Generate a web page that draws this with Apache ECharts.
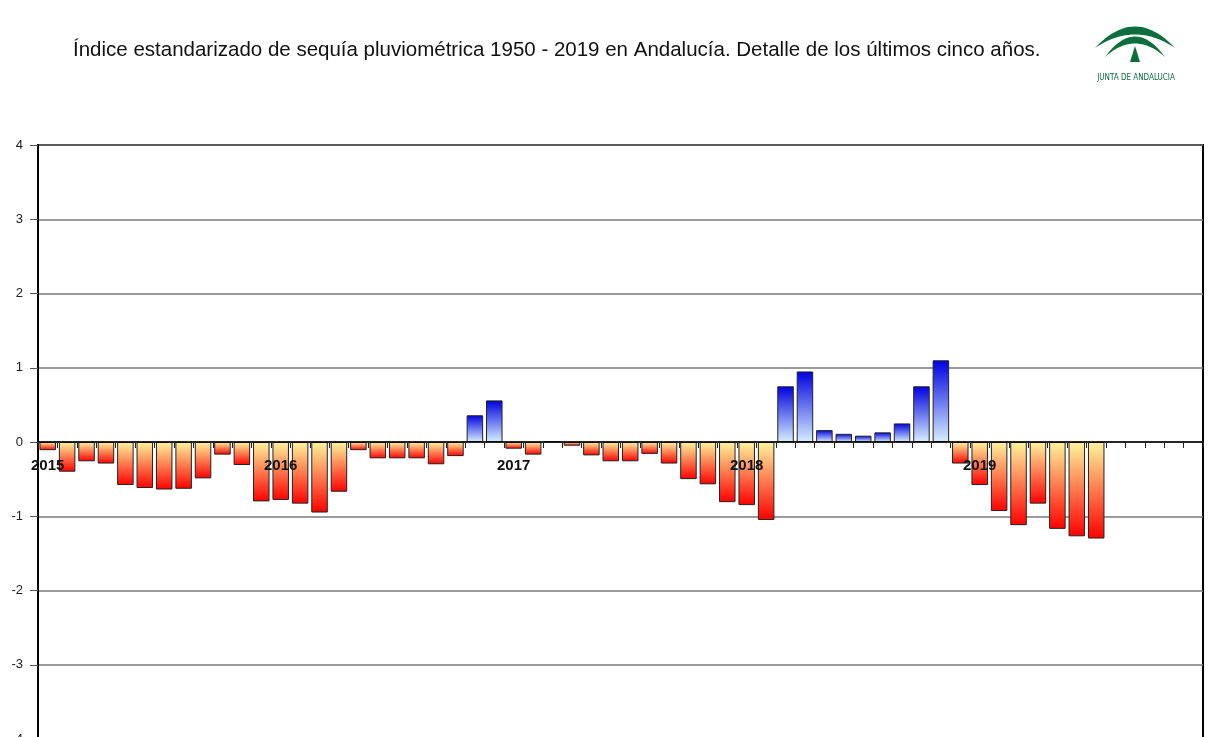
<!DOCTYPE html>
<html>
<head>
<meta charset="utf-8">
<script src="https://cdn.jsdelivr.net/npm/echarts@6/dist/echarts.min.js"></script>
<style>
  html, body { margin: 0; padding: 0; background: #fff; overflow: hidden; }
</style>
</head>
<body>
<div id="chart" style="width:1208px;height:800px;"></div>
<script>
// years shown on the axis, one category per month
var years = ['2015', '2016', '2017', '2018', '2019'];
var months = ['01', '02', '03', '04', '05', '06', '07', '08', '09', '10', '11', '12'];
var categories = [];
years.forEach(function (y) {
  months.forEach(function (m) { categories.push(y + '-' + m); });
});

// standardized precipitation drought index, monthly (2015-01 .. 2019-07)
var spi2015 = [-0.11, -0.40, -0.26, -0.29, -0.58, -0.62, -0.64, -0.63, -0.49, -0.17, -0.31, -0.80];
var spi2016 = [-0.78, -0.83, -0.95, -0.67, -0.11, -0.22, -0.22, -0.22, -0.30, -0.19, 0.36, 0.56];
var spi2017 = [-0.09, -0.17, 0.01, -0.05, -0.18, -0.26, -0.26, -0.16, -0.29, -0.50, -0.57, -0.81];
var spi2018 = [-0.85, -1.05, 0.75, 0.95, 0.16, 0.11, 0.085, 0.13, 0.25, 0.75, 1.10, -0.29];
var spi2019 = [-0.58, -0.93, -1.12, -0.83, -1.17, -1.27, -1.30, null, null, null, null, null];
var spi = spi2015.concat(spi2016, spi2017, spi2018, spi2019);

var yTicks = ['-4', '-3', '-2', '-1', '0', '1', '2', '3', '4'];

// negative bars: yellow at the zero line, red at the tip
var redGrad = new echarts.graphic.LinearGradient(0, 0, 0, 1, [
  { offset: 0, color: '#FFF49C' },
  { offset: 1, color: '#FF0000' }
]);
var blueGrad = new echarts.graphic.LinearGradient(0, 0, 0, 1, [
  { offset: 0, color: '#0000E0' },
  { offset: 1, color: '#D6EFFF' }
]);

// logo crescent: outline of two quadratic curves sharing the tips
function crescent(x0, x1, y, cOuter, cInner) {
  var pts = [], i, t, xm = (x0 + x1) / 2;
  for (i = 0; i <= 24; i++) {
    t = i / 24;
    pts.push([(1 - t) * (1 - t) * x0 + 2 * t * (1 - t) * xm + t * t * x1,
              (1 - t) * (1 - t) * y + 2 * t * (1 - t) * cOuter + t * t * y]);
  }
  for (i = 24; i >= 0; i--) {
    t = i / 24;
    pts.push([(1 - t) * (1 - t) * x0 + 2 * t * (1 - t) * xm + t * t * x1,
              (1 - t) * (1 - t) * y + 2 * t * (1 - t) * cInner + t * t * y]);
  }
  return pts;
}

var logoGreen = '#0B6E3C';
var gridTop = 145, gridHeight = 594;

var myChart = echarts.init(document.getElementById('chart'));
var option = {
  animation: false,
  backgroundColor: '#fff',
  textStyle: { fontFamily: 'Arial, "Liberation Sans", sans-serif' },
  title: {
    text: 'Índice estandarizado de sequía pluviométrica 1950 - 2019 en Andalucía. Detalle de los últimos cinco años.',
    left: 68,
    top: 35,
    textStyle: { fontSize: 20.5, fontWeight: 'normal', color: '#111' }
  },
  graphic: [
    { type: 'polygon', shape: { points: crescent(1095, 1175, 48, 5, 21) }, style: { fill: logoGreen } },
    { type: 'polygon', shape: { points: crescent(1105, 1165, 57, 16, 30) }, style: { fill: logoGreen } },
    { type: 'polygon', shape: { points: [[1135, 46], [1130, 62], [1140, 62]] }, style: { fill: logoGreen } },
    { type: 'text', x: 1136, y: 78, style: { text: 'JUNTA DE ANDALUCIA', fill: logoGreen, fontSize: 8, align: 'center', verticalAlign: 'middle', fontFamily: '"DejaVu Sans Condensed", sans-serif' } }
  ],
  grid: {
    left: 38,
    top: gridTop,
    width: 1165,
    height: gridHeight,
    show: true,
    borderColor: '#000',
    borderWidth: 2,
    backgroundColor: 'transparent'
  },
  xAxis: {
    type: 'category',
    data: categories,
    position: 'bottom',
    offset: -gridHeight / 2,
    z: 10,
    axisLine: { onZero: false, lineStyle: { color: '#000', width: 1.5 } },
    axisTick: { show: true, interval: 0, length: 6, lineStyle: { color: '#222' } },
    axisLabel: {
      show: true,
      interval: 0,
      margin: 16,
      fontSize: 15,
      fontWeight: 'bold',
      color: '#111',
      formatter: function (v) {
        return v.slice(5) === '01' ? v.slice(0, 4) : '';
      }
    },
    splitLine: { show: false }
  },
  yAxis: {
    type: 'value',
    min: -4,
    max: 4,
    interval: 1,
    axisLine: { show: true, lineStyle: { color: '#000', width: 2 } },
    axisTick: { show: true, length: 8, lineStyle: { color: '#555' } },
    axisLabel: {
      margin: 15,
      fontSize: 13,
      color: '#222',
      formatter: function (v) { return yTicks[v + 4]; }
    },
    splitLine: { show: true, lineStyle: { color: '#7a7a7a', width: 1.5 } }
  },
  series: [
    {
      name: 'SPI',
      type: 'bar',
      data: spi,
      barWidth: 16.5,
      itemStyle: {
        borderColor: '#222',
        borderWidth: 1,
        color: function (p) {
          return p.value >= 0 ? blueGrad : redGrad;
        }
      }
    }
  ]
};
myChart.setOption(option);
</script>
</body>
</html>
